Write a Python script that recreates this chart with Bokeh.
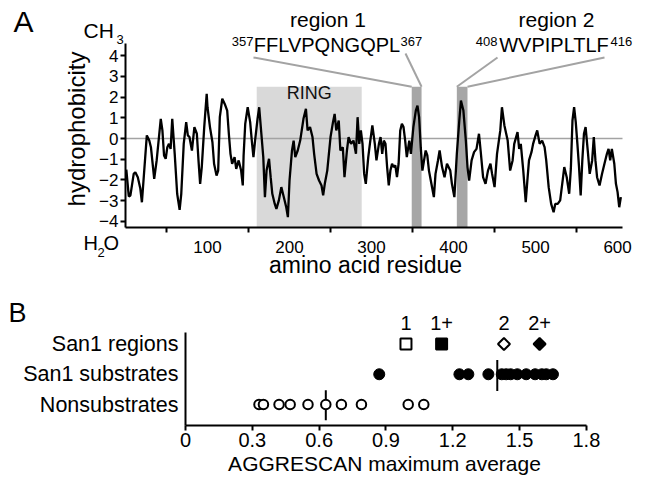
import math
from bokeh.plotting import figure
from bokeh.models import Range1d, FixedTicker, Label, ColumnDataSource
from bokeh.embed import file_html
from bokeh.resources import INLINE

FONT = "Liberation Sans"
BASE_SHIFT = 0.38   # measured offset (in em) between requested and drawn baseline

# ---------------- Panel A data ----------------
residue = [1, 4, 6, 10, 12, 15, 18, 20, 26, 29, 31, 35, 38, 43, 45, 47, 49, 51, 53, 55,
           57, 60, 63, 66, 68, 71, 74, 76, 78, 81, 84, 87, 89, 91, 93, 96, 99, 100, 103, 106,
           108, 111, 113, 115, 118, 121, 124, 126, 128, 130, 133, 135, 138, 141, 143, 144, 146, 149, 152, 154,
           156, 158, 161, 163, 168, 170, 172, 175, 177, 179, 182, 184, 187, 190, 193, 196, 198, 200, 203, 205,
           207, 210, 213, 217, 220, 222, 225, 228, 230, 233, 236, 239, 241, 243, 246, 250, 253, 255, 257, 260,
           262, 265, 267, 270, 272, 275, 278, 281, 283, 285, 287, 289, 291, 293, 296, 298, 301, 304, 306, 309,
           311, 313, 315, 317, 319, 321, 323, 325, 327, 329, 331, 333, 335, 337, 339, 341, 343, 346, 348, 351,
           354, 356, 358, 360, 362, 364, 366, 368, 370, 373, 376, 378, 381, 383, 386, 389, 392, 396, 398, 401,
           404, 407, 409, 412, 415, 417, 419, 422, 425, 428, 431, 433, 436, 439, 442, 445, 447, 450, 453, 457,
           459, 462, 466, 469, 472, 474, 478, 480, 482, 485, 488, 490, 492, 495, 497, 500, 502, 505, 508, 511,
           513, 516, 519, 522, 524, 527, 530, 533, 535, 538, 541, 543, 545, 547, 549, 551, 553, 555, 557, 559,
           561, 564, 566, 569, 571, 573, 575, 578, 581, 584, 587, 589, 591, 593, 596, 598, 600, 602, 604]
hydrophobicity = [-1.5, -2.8, -2.75, -1.71, -1.63, -1.87, -2.4, -3.08, 0.15, -0.1, -0.42, -1.95, -1.06, 0.95, 0.39, -0.82, -0.98, -0.42, -0.26, -0.5,
                  0.95, -0.74, -2.67, -3.45, -2.67, -0.26, 0.79, 0.15, 0.07, -0.58, 0.55, 0.23, -1.06, -2.19, -1.38, 0.55, 2.16, 1.51, 0.55, -0.18,
                  -1.22, -1.79, -1.55, 1.03, 1.92, 1.67, 1.35, 0.23, -0.74, -1.22, -0.9, -1.47, -1.06, -1.55, -2.27, -0.82, 0.71, 1.51, 0.79, -0.1,
                  -0.9, -0.1, 0.95, 1.51, -0.9, -2.83, -1.55, -0.98, -1.87, -2.67, -3.16, -3.4, -2.99, -2.35, -2.83, -3.32, -3.8, -2.03, -0.58, -0.1,
                  -0.9, -0.58, -0.1, 0.95, 1.43, 0.39, 0.55, 0.07, -0.74, -1.71, -2.03, -2.27, -2.75, -2.19, -1.55, 0.07, 0.79, 1.19, 0.39, 0.87,
                  -0.58, -0.42, -1.87, -0.58, 0.07, -0.26, -0.1, -0.74, 1.03, -0.26, 0.39, -0.26, -1.71, -2.19, -0.9, -0.26, 0.63, -0.26, -1.06, -0.26,
                  0.07, -0.74, -0.1, -0.26, -1.38, -2.27, -1.55, -1.22, -1.38, -1.3, -1.87, -1.22, 0.39, 0.71, 0.55, -0.1, -0.9, -0.1, -0.74, 0.55,
                  1.35, 1.59, 1.03, -0.42, -1.55, -1.06, -0.58, -0.82, -1.55, -2.19, -2.83, -1.71, -1.06, -0.58, -1.38, -1.87, -1.22, -1.55, -2.19, -2.83,
                  -0.74, 0.87, 1.83, 1.35, -0.1, -1.38, -2.03, -1.06, -0.66, -0.5, 0.23, -0.58, -1.87, -2.19, -1.55, -1.22, -1.71, -2.35, -0.74, 0.39,
                  1.51, 0.63, -0.1, -1.55, -1.06, -0.26, 0.31, -0.5, -0.26, -1.55, -3.08, -2.03, -1.06, -0.66, -0.26, 0.15, 0.39, -0.26, -0.1, -0.42,
                  -1.06, -2.35, -3.16, -3.56, -3.16, -3.16, -2.99, -2.03, -1.38, -1.87, -2.67, -1.47, 0.87, 1.51, 0.79, -0.26, -1.38, -2.75, -1.06, 0.23,
                  0.55, -0.74, -1.71, -1.06, 0.07, -1.06, -1.87, -2.27, -1.71, -1.22, -0.74, -0.5, -1.06, -0.5, -1.22, -2.19, -2.59, -3.32, -2.83]
ring_domain = [160, 288]
region1_span = [349, 361]
region2_span = [404, 417]
highlight_top = 2.5
region_names = ["region 1", "region 2"]
region_seqs = ["FFLVPQNGQPL", "WVPIPLTLF"]
region_first = ["357", "408"]
region_last = ["367", "416"]
a_xticks = [100, 200, 300, 400, 500, 600]
a_xminor = [50, 150, 250, 350, 450, 550]
a_yticks = [-4, -3, -2, -1, 0, 1, 2, 3, 4]
a_xlim = [0, 606]
a_ylim = [-4.30, 4.59]

# ---------------- Panel B data ----------------
b_rows = ["Nonsubstrates", "San1 substrates", "San1 regions"]
san1_region_names = ["1", "1+", "2", "2+"]
san1_region_vals = [0.99, 1.15, 1.43, 1.59]
san1_substrates = [0.87, 1.23, 1.27, 1.36, 1.42, 1.44, 1.46, 1.49, 1.53, 1.57, 1.60, 1.62, 1.65]
nonsubstrates = [0.33, 0.35, 0.42, 0.47, 0.55, 0.63, 0.70, 0.79, 1.00, 1.07]
mean_substrates = 1.40
mean_nonsubstrates = 0.63
b_xticks = [0, 0.3, 0.6, 0.9, 1.2, 1.5, 1.8]
b_xlabels = ["0", "0.3", "0.6", "0.9", "1.2", "1.5", "1.8"]
b_xlim = [0, 1.8]
b_ylim = [0.3056, 3.38]

# ---------------- Panel A (page layout: y axis at x=125, zero at y=138) ----------------
A_W, A_H = 652, 290
A_X0, A_KX, A_Y0, A_KY = 125, 497 / 606, 138, 20.7


def posA(px, py):
    return (px - A_X0) / A_KX, (A_Y0 - py) / A_KY


def style_axis(ax, size):
    ax.axis_line_width = 2
    ax.axis_line_color = "black"
    ax.major_tick_line_width = 2
    ax.minor_tick_line_width = 2
    ax.major_tick_line_color = "black"
    ax.minor_tick_line_color = "black"
    ax.major_tick_in = 0
    ax.minor_tick_in = 0
    ax.major_label_text_font = FONT
    ax.major_label_text_font_size = size
    ax.major_label_text_color = "black"


pA = figure(width=A_W, height=A_H,
            x_range=Range1d(posA(0, 0)[0], posA(A_W, 0)[0]),
            y_range=Range1d(posA(0, A_H)[1], posA(0, 0)[1]),
            output_backend="svg", toolbar_location=None, min_border=0,
            min_border_left=0, min_border_right=0, min_border_top=0, min_border_bottom=0)
pA.outline_line_color = None
pA.grid.visible = False

xa = pA.xaxis[0]
style_axis(xa, "17px")
xa.ticker = FixedTicker(ticks=a_xticks, minor_ticks=a_xminor)
xa.fixed_location = a_ylim[0]
xa.bounds = tuple(a_xlim)
xa.major_tick_out = 0
xa.minor_tick_out = 5
xa.major_label_standoff = 8

ya = pA.yaxis[0]
style_axis(ya, "17px")
ya.ticker = FixedTicker(ticks=a_yticks)
ya.fixed_location = a_xlim[0]
ya.bounds = tuple(a_ylim)
ya.major_tick_out = 5
ya.minor_tick_out = 0
ya.major_label_standoff = 2

pA.quad(left=[ring_domain[0]], right=[ring_domain[1]], bottom=[a_ylim[0]], top=[highlight_top],
        fill_color="#d9d9d9", line_color=None)
pA.quad(left=[region1_span[0], region2_span[0]], right=[region1_span[1], region2_span[1]],
        bottom=[a_ylim[0]] * 2, top=[highlight_top] * 2,
        fill_color="#a6a6a6", line_color=None)
pA.segment(x0=[a_xlim[0]], y0=[0], x1=[a_xlim[1]], y1=[0], line_color="#a3a3a3", line_width=1.5)
pA.line(residue, hydrophobicity, line_color="black", line_width=2.3)

# callout lines from the sequence labels to the highlighted regions
anchors = [posA(253, 57), posA(405, 53), posA(497, 57), posA(604, 57)]
corners = [(region1_span[0], highlight_top), (region1_span[1], highlight_top),
           (region2_span[0], highlight_top), (region2_span[1], highlight_top)]
pA.segment(x0=[a[0] for a in anchors], y0=[a[1] for a in anchors],
           x1=[c[0] for c in corners], y1=[c[1] for c in corners],
           line_color="#a3a3a3", line_width=2)


def labA(px, py, text, size, align="left", angle=0.0, color="black"):
    if angle:
        x, y = posA(px - BASE_SHIFT * size, py)
    else:
        x, y = posA(px, py - BASE_SHIFT * size)
    pA.add_layout(Label(x=x, y=y, text=text, text_font=FONT, text_font_size=f"{size}px",
                        text_align=align, text_baseline="alphabetic", angle=angle,
                        text_color=color))


labA(13, 32, "A", 30)
labA(83, 38, "CH", 21)
labA(116, 43.5, "3", 13)
labA(83, 250, "H", 20)
labA(97, 257, "2", 13)
labA(103, 250, "O", 20)
labA(85.5, 128.5, "hydrophobicity", 24, "center", math.pi / 2)
labA(365, 273, "amino acid residue", 23, "center")

labA(327.5, 27, region_names[0], 21, "center")
labA(326.5, 52, region_seqs[0], 20, "center")
labA(253, 46, region_first[0], 13, "right")
labA(400, 46, region_last[0], 13, "left")
labA(556, 27, region_names[1], 21, "center")
labA(553.5, 52, region_seqs[1], 20, "center")
labA(497, 46, region_first[1], 13, "right")
labA(610, 46, region_last[1], 13, "left")
pA.add_layout(Label(x=(ring_domain[0] + ring_domain[1]) / 2, y=posA(0, 99 - BASE_SHIFT * 18)[1],
                    text="RING", text_font=FONT, text_font_size="18px", text_align="center",
                    text_baseline="alphabetic", text_color="#111111"))

# ---------------- Panel B (page layout: y axis at x=185, rows 30.24 px apart) ----------------
B_W, B_H, B_TOP = 652, 187, 290
B_X0, B_KX, B_Y0, B_KY = 185, 222.7, 404, 30.24


def posB(px, py):
    return (px - B_X0) / B_KX, 1 + (B_Y0 - py) / B_KY


pB = figure(width=B_W, height=B_H,
            x_range=Range1d(posB(0, 0)[0], posB(B_W, 0)[0]),
            y_range=Range1d(posB(0, B_TOP + B_H)[1], posB(0, B_TOP)[1]),
            output_backend="svg", toolbar_location=None, min_border=0,
            min_border_left=0, min_border_right=0, min_border_top=0, min_border_bottom=0)
pB.outline_line_color = None
pB.grid.visible = False

xb = pB.xaxis[0]
style_axis(xb, "20px")
xb.ticker = FixedTicker(ticks=b_xticks)
xb.major_label_overrides = {t: l for t, l in zip(b_xticks, b_xlabels)}
xb.fixed_location = b_ylim[0]
xb.bounds = tuple(b_xlim)
xb.major_tick_out = 5
xb.minor_tick_out = 0
xb.major_label_standoff = 3

yb = pB.yaxis[0]
style_axis(yb, "21.5px")
yb.ticker = FixedTicker(ticks=[1, 2, 3])
yb.major_label_overrides = {i + 1: r for i, r in enumerate(b_rows)}
yb.fixed_location = b_xlim[0]
yb.bounds = tuple(b_ylim)
yb.major_tick_out = 0
yb.minor_tick_out = 0
yb.major_label_standoff = 7

# mean lines
pB.segment(x0=[mean_substrates, mean_nonsubstrates], y0=[1.45, 0.48],
           x1=[mean_substrates, mean_nonsubstrates], y1=[2.47, 1.47],
           line_color="black", line_width=2)

pB.scatter(nonsubstrates, [1] * len(nonsubstrates), marker="circle", size=9.5,
           fill_color="white", line_color="black", line_width=2)
pB.scatter(san1_substrates, [2] * len(san1_substrates), marker="circle", size=11,
           fill_color="black", line_color="black", line_width=1)

reg_src = ColumnDataSource(dict(
    x=san1_region_vals, y=[3] * len(san1_region_vals),
    fill=["white", "black", "white", "black"],
    angle=[0, 0, math.pi / 4, math.pi / 4],
    size=[11, 11, 8.5, 8.5]))
pB.scatter("x", "y", source=reg_src, marker="square", size="size", angle="angle",
           fill_color="fill", line_color="black", line_width=2)


def labB(px, py, text, size, align="left"):
    x, y = posB(px, py - BASE_SHIFT * size)
    pB.add_layout(Label(x=x, y=y, text=text, text_font=FONT, text_font_size=f"{size}px",
                        text_align=align, text_baseline="alphabetic", text_color="black"))


lab_y = posB(0, 330 - BASE_SHIFT * 20)[1]
for v, n in zip(san1_region_vals, san1_region_names):
    pB.add_layout(Label(x=v, y=lab_y, text=n, text_font=FONT, text_font_size="20px",
                        text_align="center", text_baseline="alphabetic", text_color="black"))

labB(8, 323, "B", 27)
labB(384, 471, "AGGRESCAN maximum average", 21, "center")

open("out.html", "w").write(file_html([pA, pB], INLINE))
